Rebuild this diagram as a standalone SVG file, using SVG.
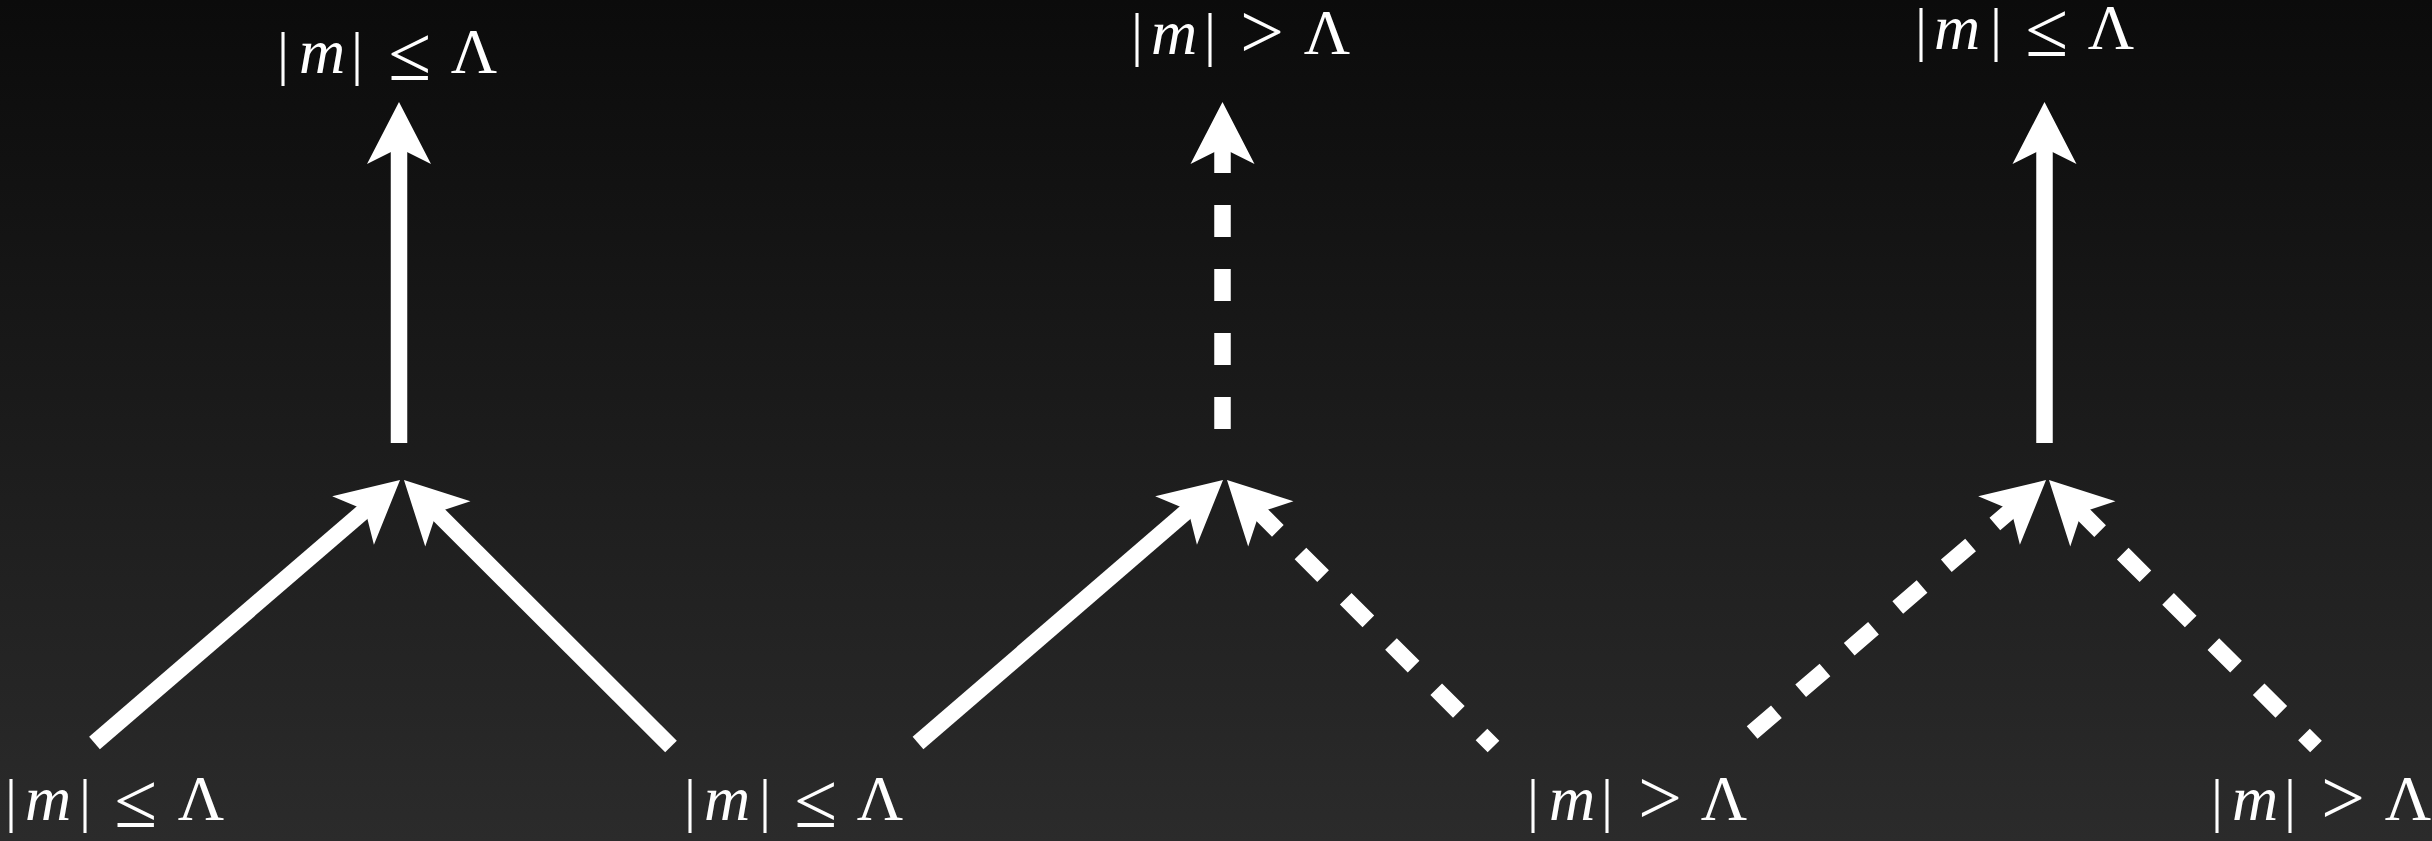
<svg xmlns="http://www.w3.org/2000/svg" width="2432" height="841" viewBox="0 0 2432 841">
<defs>
<linearGradient id="bg" x1="0" y1="0" x2="0" y2="1">
<stop offset="0" stop-color="#0b0b0b"/>
<stop offset="1" stop-color="#2b2b2b"/>
</linearGradient>
<marker id="head" markerUnits="userSpaceOnUse" orient="auto" refX="-30" refY="0" markerWidth="70" markerHeight="70" overflow="visible">
<path d="M0,0 L-62,-32 L-46,0 L-62,32 Z" fill="#fff"/>
</marker>
<style>
.lbl{font-family:"Liberation Serif","Times New Roman",serif;font-size:60px;fill:#fff;text-anchor:middle}
.it{font-style:italic;font-size:64px}
.rel{font-size:78px}
.big{font-size:64px}
.edge{stroke:#fff;stroke-width:16.5;fill:none;stroke-linecap:butt;marker-end:url(#head)}
.dash{stroke-dasharray:32 32}
</style>
</defs>
<rect x="0" y="0" width="2432" height="841" fill="url(#bg)"/>

<g id="connectors">
<line class="edge" x1="399" y1="443" x2="399" y2="132"/>
<line class="edge" x1="94.5" y1="743" x2="377.3" y2="499.6"/>
<line class="edge" x1="671" y1="746.5" x2="425.2" y2="501.2"/>

<line class="edge dash" x1="1222.5" y1="429" x2="1222.5" y2="132"/>
<line class="edge" x1="918" y1="743" x2="1200.3" y2="499.6"/>
<line class="edge dash" stroke-dashoffset="15" x1="1493.5" y1="746.5" x2="1248.2" y2="501.2"/>

<line class="edge" x1="2044.5" y1="443" x2="2044.5" y2="132"/>
<line class="edge dash" stroke-dashoffset="48" x1="1740" y1="743" x2="2023.3" y2="499.6"/>
<line class="edge dash" stroke-dashoffset="15" x1="2316" y1="746.5" x2="2070.2" y2="501.2"/>
</g>

<g id="node-top1"><text class="lbl" y="73"><tspan x="283">|</tspan><tspan class="it" x="322">m</tspan><tspan x="357">|</tspan><tspan class="rel" x="410" y="80">≤</tspan><tspan class="big" x="474" y="73">Λ</tspan></text></g>
<g id="node-top2"><text class="lbl" y="54"><tspan x="1137">|</tspan><tspan class="it" x="1174">m</tspan><tspan x="1210">|</tspan><tspan class="rel" x="1262" y="58">&gt;</tspan><tspan class="big" x="1327" y="54">Λ</tspan></text></g>
<g id="node-top3"><text class="lbl" y="49"><tspan x="1921">|</tspan><tspan class="it" x="1957">m</tspan><tspan x="1996">|</tspan><tspan class="rel" x="2047" y="56">≤</tspan><tspan class="big" x="2111" y="49">Λ</tspan></text></g>

<g id="node-bot1"><text class="lbl" y="820"><tspan x="11">|</tspan><tspan class="it" x="48">m</tspan><tspan x="85">|</tspan><tspan class="rel" x="136" y="827">≤</tspan><tspan class="big" x="201" y="820">Λ</tspan></text></g>
<g id="node-bot2"><text class="lbl" y="820"><tspan x="690">|</tspan><tspan class="it" x="727">m</tspan><tspan x="765">|</tspan><tspan class="rel" x="816" y="827">≤</tspan><tspan class="big" x="880" y="820">Λ</tspan></text></g>
<g id="node-bot3"><text class="lbl" y="820"><tspan x="1533">|</tspan><tspan class="it" x="1572">m</tspan><tspan x="1607">|</tspan><tspan class="rel" x="1660" y="824">&gt;</tspan><tspan class="big" x="1724" y="820">Λ</tspan></text></g>
<g id="node-bot4"><text class="lbl" y="820"><tspan x="2217">|</tspan><tspan class="it" x="2255">m</tspan><tspan x="2290">|</tspan><tspan class="rel" x="2343" y="824">&gt;</tspan><tspan class="big" x="2408" y="820">Λ</tspan></text></g>
</svg>
